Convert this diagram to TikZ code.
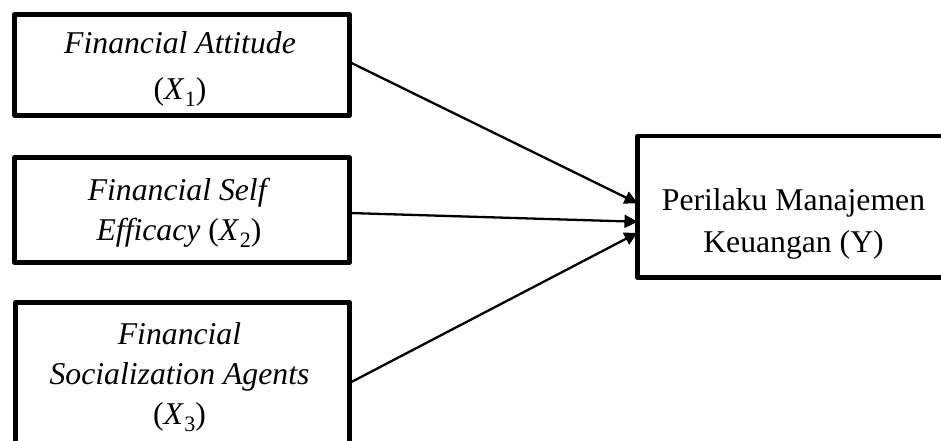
\documentclass[tikz,border=0pt]{standalone}
\usepackage{fontspec}
\setmainfont{Liberation Serif}
\usetikzlibrary{arrows.meta}
\tikzset{
  varbox/.style={draw=black, line width=4.7pt, line join=round, inner sep=0pt, outer sep=0pt},
  boxtext/.style={align=center, inner sep=0pt, text=black},
  conn/.style={line width=2.3pt, -{Triangle[length=13pt, width=13pt]}},
}
\newcommand{\subX}[1]{(\textit{X}\kern0.5pt\raisebox{-0.22em}{\fontsize{22}{22}\selectfont #1})}
\begin{document}
\begin{tikzpicture}[x=1pt, y=-1pt]
\useasboundingbox (0,0) rectangle (941,441);
% boxes
\node[varbox, minimum width=335pt, minimum height=101pt] (b1) at (182,65) {};
\node[varbox, minimum width=335pt, minimum height=105pt] (b2) at (182,210) {};
\node[varbox, minimum width=334pt, minimum height=145pt] (b3) at (182.5,375) {};
\node[varbox, minimum width=312.5pt, minimum height=141.5pt] (y) at (793.75,206.75) {};
% texts
\node[boxtext, font=\fontsize{31.7}{46}\selectfont] (t1) at (180,69) {\textit{Financial Attitude}\\ \subX{1}};
\node[boxtext, font=\fontsize{31.7}{40}\selectfont] (t2) at (179,212.5) {\textit{Financial Self}\\ \textit{Efficacy} \subX{2}};
\node[boxtext, font=\fontsize{31.7}{40}\selectfont] (t3) at (179.5,377) {\textit{Financial}\\ \textit{Socialization Agents}\\ \subX{3}};
\node[boxtext, font=\fontsize{31.7}{42}\selectfont] (ty) at (793.5,223.5) {Perilaku Manajemen\\ Keuangan (Y)};
% connectors
\draw[conn] ([yshift=3pt]b1.east) -- ([yshift=3.5pt]y.west);
\draw[conn] ([yshift=-3pt]b2.east) -- ([yshift=-15pt]y.west);
\draw[conn] ([yshift=-8pt]b3.east) -- ([yshift=-26pt]y.west);
\end{tikzpicture}
\end{document}
